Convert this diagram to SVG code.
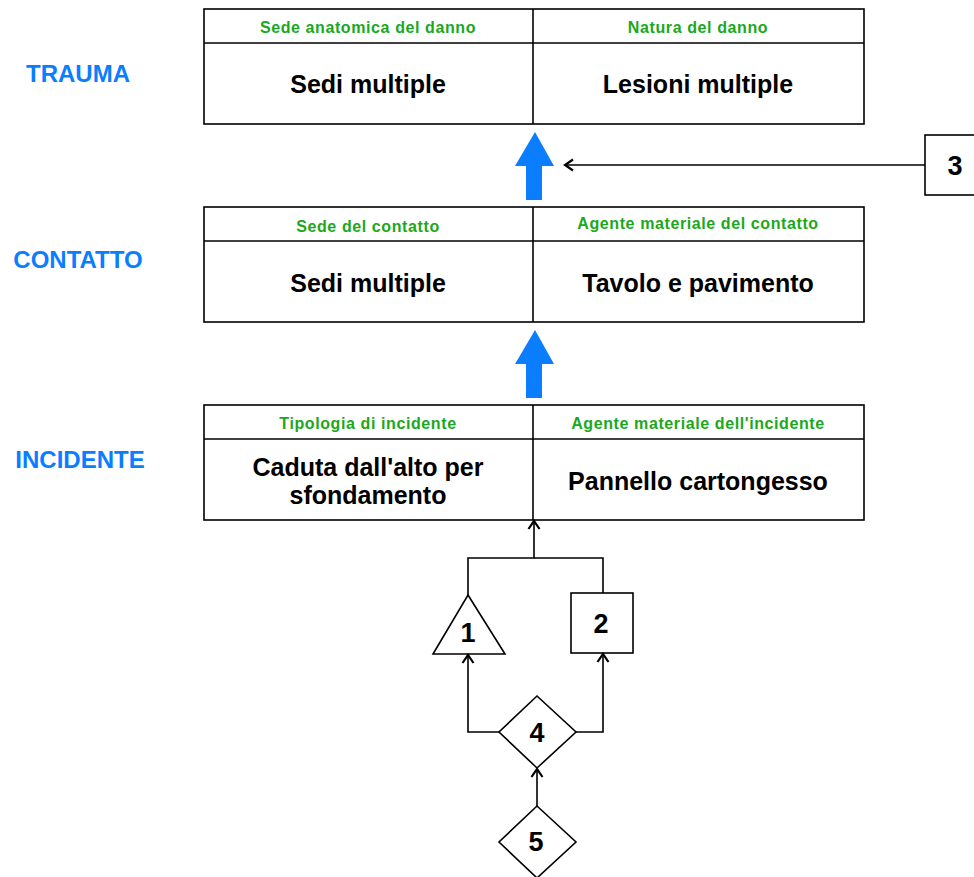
<svg xmlns="http://www.w3.org/2000/svg" width="974" height="877" viewBox="0 0 974 877">
<style>
.box{fill:#fff;stroke:#000;stroke-width:1.6}
.ln{fill:none;stroke:#000;stroke-width:1.6}
.hd{font-family:"Liberation Sans",Arial,sans-serif;font-weight:bold;font-size:16px;fill:#1BA81B;text-anchor:middle;letter-spacing:0.6px}
.mt{font-family:"Liberation Sans",Arial,sans-serif;font-weight:bold;font-size:25px;fill:#000;text-anchor:middle}
.lv{font-family:"Liberation Sans",Arial,sans-serif;font-weight:bold;font-size:24px;fill:#0A7EFF;text-anchor:middle}
.num{font-family:"Liberation Sans",Arial,sans-serif;font-weight:bold;font-size:27px;fill:#000;text-anchor:middle}
.blue{fill:#0A7EFF}
</style>
<defs>
<marker id="ah" markerWidth="14" markerHeight="14" refX="0" refY="0" viewBox="-10 -7 12 14" orient="auto" markerUnits="userSpaceOnUse">
<path d="M-8,-5.5 L0,0 L-8,5.5" fill="none" stroke="#000" stroke-width="2.2"/>
</marker>
</defs>
<rect width="974" height="877" fill="#fff"/>

<g id="label-trauma"><text class="lv" x="78" y="82">TRAUMA</text></g>
<g id="label-contatto"><text class="lv" x="78" y="268">CONTATTO</text></g>
<g id="label-incidente"><text class="lv" x="80" y="468">INCIDENTE</text></g>

<g id="trauma">
<rect class="box" x="204" y="9" width="660" height="115"/>
<line class="ln" x1="204" y1="43" x2="864" y2="43"/>
<line class="ln" x1="533" y1="9" x2="533" y2="124"/>
<text class="hd" x="368" y="33">Sede anatomica del danno</text>
<text class="hd" x="698" y="33">Natura del danno</text>
<text class="mt" x="368" y="93">Sedi multiple</text>
<text class="mt" x="698" y="93">Lesioni multiple</text>
</g>

<g id="contatto">
<rect class="box" x="204" y="207" width="660" height="115"/>
<line class="ln" x1="204" y1="241" x2="864" y2="241"/>
<line class="ln" x1="533" y1="207" x2="533" y2="322"/>
<text class="hd" x="368" y="232">Sede del contatto</text>
<text class="hd" x="698" y="229">Agente materiale del contatto</text>
<text class="mt" x="368" y="292">Sedi multiple</text>
<text class="mt" x="698" y="292">Tavolo e pavimento</text>
</g>

<g id="incidente">
<rect class="box" x="204" y="405" width="660" height="115"/>
<line class="ln" x1="204" y1="439" x2="864" y2="439"/>
<line class="ln" x1="533" y1="405" x2="533" y2="520"/>
<text class="hd" x="368" y="429">Tipologia di incidente</text>
<text class="hd" x="698" y="429">Agente materiale dell'incidente</text>
<text class="mt" x="368" y="476">Caduta dall'alto per</text>
<text class="mt" x="368" y="504">sfondamento</text>
<text class="mt" x="698" y="490">Pannello cartongesso</text>
</g>

<g id="blue-arrow-1"><polygon class="blue" points="535,132 554,166 542,166 542,200 526,200 526,166 515,166"/></g>
<g id="blue-arrow-2"><polygon class="blue" points="535,330 554,364 542,364 542,398 526,398 526,364 515,364"/></g>

<g id="n3">
<rect class="box" x="925" y="135" width="60" height="60"/>
<text class="num" x="955" y="175">3</text>
</g>
<g id="n1">
<polygon class="box" points="468,595 505,654 433,654"/>
<text class="num" x="468" y="642">1</text>
</g>
<g id="n2">
<rect class="box" x="571" y="593" width="62" height="60"/>
<text class="num" x="601" y="633">2</text>
</g>
<g id="n4">
<polygon class="box" points="537,696 576,732 537,768 499,732"/>
<text class="num" x="537" y="742">4</text>
</g>
<g id="n5">
<polygon class="box" points="537,806 576,842 537,878 499,842"/>
<text class="num" x="536" y="851">5</text>
</g>

<g id="connectors">
<path class="ln" d="M925,165 H565" marker-end="url(#ah)"/>
<path class="ln" d="M468,595 V558 H534 V521" marker-end="url(#ah)"/>
<path class="ln" d="M603,593 V558 H534"/>
<path class="ln" d="M499,732 H468 V655" marker-end="url(#ah)"/>
<path class="ln" d="M576,732 H603 V654" marker-end="url(#ah)"/>
<path class="ln" d="M537,806 V769" marker-end="url(#ah)"/>
</g>
</svg>
